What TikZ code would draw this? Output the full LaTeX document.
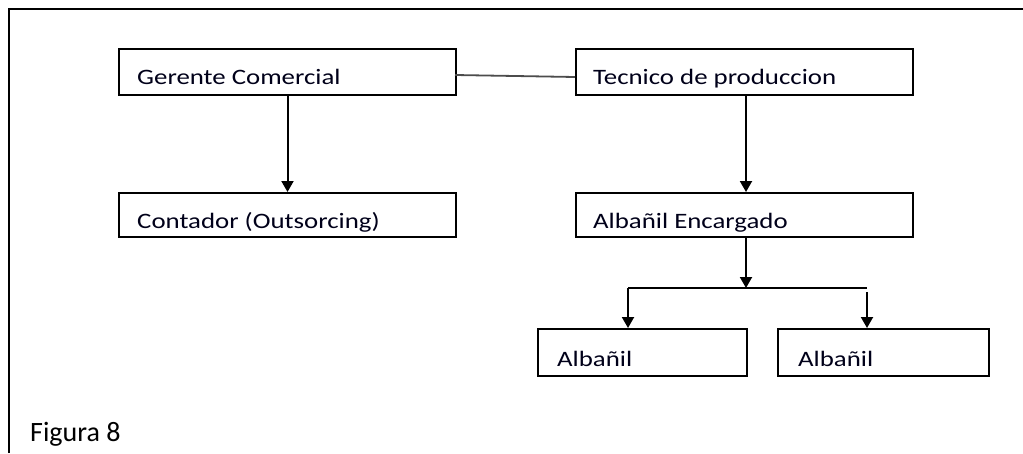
\documentclass[tikz,border=0pt]{standalone}
\usepackage{fontspec}
\usepackage{graphicx}
\setmainfont{Carlito}
\usetikzlibrary{arrows.meta}
\tikzset{
  box/.style={draw, line width=2pt, inner sep=0pt, anchor=north west},
  lbl/.style={anchor=base west, inner sep=0pt, font=\fontsize{22}{25}\selectfont, text=black!90!blue},
  arr/.style={line width=2pt, -{Triangle[width=12pt,length=11pt]}},
  ln/.style={line width=2pt},
}
\newcommand{\bx}[1]{\scalebox{1.22}[1]{#1}}
\begin{document}
\begin{tikzpicture}[x=1pt,y=-1pt]
\useasboundingbox (0,0) rectangle (1023,453);
\draw[line width=2.2pt] (9,453) -- (9,9) -- (1023,9);
% boxes
\node[box, minimum width=337pt, minimum height=46pt] (g) at (118,48) {};
\node[box, minimum width=337pt, minimum height=44pt] (c) at (118,192) {};
\node[box, minimum width=337pt, minimum height=46pt] (t) at (575,48) {};
\node[box, minimum width=337pt, minimum height=44pt] (e) at (575,192) {};
\node[box, minimum width=209pt, minimum height=47pt] (a1) at (537,328) {};
\node[box, minimum width=211pt, minimum height=47pt] (a2) at (777,328) {};
% labels
\node[lbl] (gl) at (137,84) {\bx{Gerente Comercial}};
\node[lbl] (cl) at (137,228) {\bx{Contador (Outsorcing)}};
\node[lbl] (tl) at (593,84) {\bx{Tecnico de produccion}};
\node[lbl] (el) at (593,228) {\bx{Albañil Encargado}};
\node[lbl] (a1l) at (557,366) {\bx{Albañil}};
\node[lbl] (a2l) at (798,366) {\bx{Albañil}};
\node[anchor=base west, inner sep=0pt, font=\fontsize{28}{32}\selectfont] (fig) at (30,441) {Figura 8};
% connectors
\coordinate (ge) at (455,75);
\coordinate (tw) at (575,77);
\draw[line width=1.8pt, black!70] (ge) -- (tw);
\draw[arr] (g.south) -- (c.north);
\coordinate (ts) at (746,94);
\coordinate (en) at (746,192);
\draw[arr] (ts) -- (en);
\coordinate (es) at (746,236);
\coordinate (br) at (746,288);
\draw[arr] (es) -- (br);
\coordinate (bl) at (628,288);
\coordinate (brr) at (867,288);
\coordinate (a1n) at (628,328);
\coordinate (a2t) at (867,292);
\coordinate (a2n) at (867,328);
\draw[ln] (bl) -- (brr);
\draw[arr] (bl) -- (a1n);
\draw[arr] (a2t) -- (a2n);
\end{tikzpicture}
\end{document}
